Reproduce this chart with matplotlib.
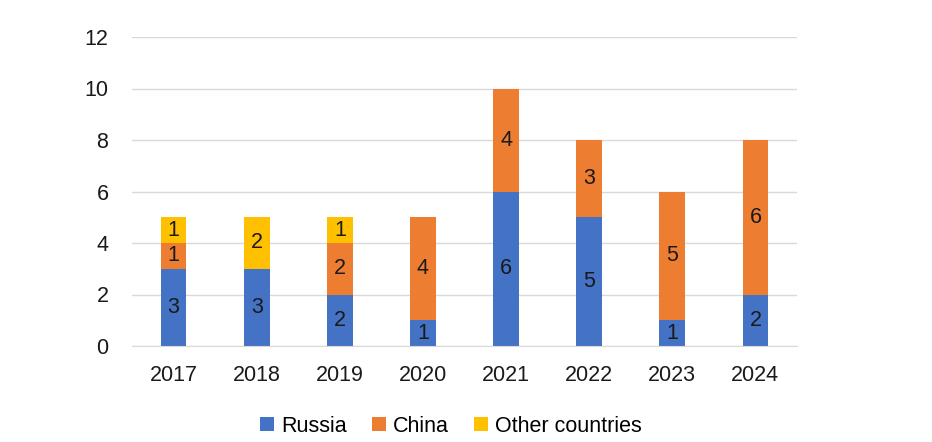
import matplotlib.pyplot as plt
import numpy as np

plt.rcParams['font.family'] = ['Liberation Sans', 'DejaVu Sans']

years = ["2017", "2018", "2019", "2020", "2021", "2022", "2023", "2024"]
russia = [3, 3, 2, 1, 6, 5, 1, 2]
china = [1, 0, 2, 4, 4, 3, 5, 6]
other = [1, 2, 1, 0, 0, 0, 0, 0]

series = [("Russia", russia, "#4472C4"),
          ("China", china, "#ED7D31"),
          ("Other countries", other, "#FFC000")]

FS = 15.5

fig = plt.figure(figsize=(9.32, 4.42), dpi=100)
ax = fig.add_axes([132 / 932, 1 - 346 / 442, 665 / 932, 309 / 442])

x = np.arange(len(years))
bottom = np.zeros(len(years))
for name, vals, col in series:
    vals = np.array(vals, dtype=float)
    ax.bar(x, vals, 0.31, bottom=bottom, color=col, label=name, zorder=2)
    # подписи внутри сегментов, нули не пишем
    for xi, b, v in zip(x, bottom, vals):
        if v > 0:
            ax.text(xi, b + v / 2, f"{int(v)}", ha="center", va="center",
                    fontsize=FS, color="#1a1a1a", zorder=3)
    bottom += vals

ax.set_xlim(-0.5, len(years) - 0.5)
ax.set_ylim(0, 12)
ax.set_yticks(range(0, 13, 2))
ax.set_xticks(x)
ax.set_xticklabels(years)
ax.tick_params(axis="both", length=0, labelsize=FS, colors="#1a1a1a")
ax.tick_params(axis="y", pad=17)
ax.tick_params(axis="x", pad=14)
ax.grid(axis="y", color="#D9D9D9", linewidth=1, zorder=0)
for s in ["top", "right", "left"]:
    ax.spines[s].set_visible(False)
ax.spines["bottom"].set_color("#D9D9D9")

handles, labels = ax.get_legend_handles_labels()
fig.legend(handles, labels, loc="center", bbox_to_anchor=(451 / 932, 1 - 426 / 442),
           ncol=3, frameon=False, fontsize=FS, handlelength=0.65, handleheight=0.65,
           handletextpad=0.3, columnspacing=1.2, borderaxespad=0, borderpad=0)

fig.savefig("out.png", dpi=100)
